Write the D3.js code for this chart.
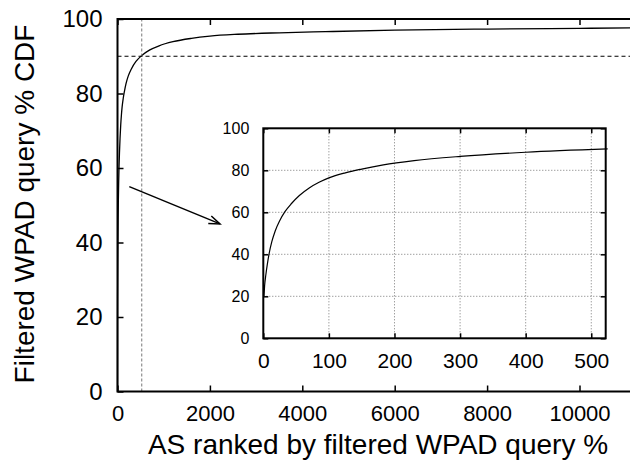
<!DOCTYPE html>
<html>
<head>
<meta charset="utf-8">
<script src="https://cdn.jsdelivr.net/npm/d3@7"></script>
<style>
  body { margin: 0; background: #fff; }
  svg { display: block; font-family: "Liberation Sans", Arial, Helvetica, sans-serif; }
</style>
</head>
<body>
<svg id="chart" width="630" height="463"></svg>
<script>
// CDF of filtered WPAD queries over ASes ranked by share
const rank = [1, 2, 4, 6, 9, 13, 18, 25, 33, 43, 55, 70, 85, 100, 125, 150, 183, 230, 300, 400, 525,
  700, 900, 1200, 1600, 2000, 2600, 3500, 4500, 6000, 8000, 10000, 12000];
const cdf = [20, 25, 30.5, 35, 40.5, 46, 51, 56, 60.3, 64.2, 68, 71.6, 74.3, 76.4, 78.8, 80.6, 82.6, 84.6, 86.6, 88.6, 90.2,
  91.7, 92.8, 93.9, 94.8, 95.4, 95.9, 96.3, 96.6, 97.0, 97.3, 97.5, 97.7];

const mainXTicks = [0, 2000, 4000, 6000, 8000, 10000];
const mainYTicks = [0, 20, 40, 60, 80, 100];
const insetXTicks = [0, 100, 200, 300, 400, 500];
const insetYTicks = [0, 20, 40, 60, 80, 100];

const refRank = 525;   // vertical dashed line
const refCdf = 90;     // horizontal dashed line
const arrowFrom = [255, 55];
const arrowTo = [2218, 45];

const xLabel = "AS ranked by filtered WPAD query %";
const yLabel = "Filtered WPAD query % CDF";

const points = rank.map((r, i) => ({ r: r, c: cdf[i] }));

const svg = d3.select("#chart");

// main panel
const x = d3.scaleLinear().domain([0, 12000]).range([117.5, 671.9]);
const y = d3.scaleLinear().domain([0, 100]).range([391.5, 19]);

const line = d3.line()
  .x(d => x(d.r))
  .y(d => y(d.c))
  .curve(d3.curveMonotoneX);

svg.append("path")
  .datum([{ r: 0, c: 0 }].concat(points))
  .attr("fill", "none")
  .attr("stroke", "#000")
  .attr("stroke-width", 1.3)
  .attr("d", line);

svg.append("line")
  .attr("x1", x(refRank)).attr("x2", x(refRank))
  .attr("y1", y(0)).attr("y2", y(100))
  .attr("stroke", "#777")
  .attr("stroke-width", 1)
  .attr("stroke-dasharray", "3,2");

svg.append("line")
  .attr("x1", x(0)).attr("x2", x(12000))
  .attr("y1", y(refCdf)).attr("y2", y(refCdf))
  .attr("stroke", "#000")
  .attr("stroke-width", 1)
  .attr("stroke-dasharray", "4,3");

function styleAxis(g, size) {
  g.select(".domain").remove();
  g.selectAll(".tick line").attr("stroke", "#000").attr("stroke-width", 1.5);
  g.selectAll(".tick text").attr("fill", "#000").style("font-size", size + "px");
}

svg.append("g")
  .attr("transform", `translate(0,${y(0)})`)
  .call(d3.axisBottom(x).tickValues(mainXTicks).tickSize(-6).tickPadding(14).tickFormat(d3.format("d")))
  .call(g => styleAxis(g, 22));

svg.append("g")
  .attr("transform", `translate(0,${y(100)})`)
  .call(d3.axisTop(x).tickValues(mainXTicks).tickSize(-6).tickFormat(""))
  .call(g => styleAxis(g, 22));

svg.append("g")
  .attr("transform", `translate(${x(0)},0)`)
  .call(d3.axisLeft(y).tickValues(mainYTicks).tickSize(-6).tickPadding(15))
  .call(g => styleAxis(g, 24));

svg.append("path")
  .attr("d", `M${x(12000)},${y(100)}H${x(0)}V${y(0)}H${x(12000)}`)
  .attr("fill", "none")
  .attr("stroke", "#000")
  .attr("stroke-width", 2);

svg.append("text")
  .attr("x", 378)
  .attr("y", 454)
  .attr("text-anchor", "middle")
  .style("font-size", "28px")
  .text(xLabel);

svg.append("text")
  .attr("transform", `translate(33.5,204) rotate(-90)`)
  .attr("text-anchor", "middle")
  .style("font-size", "28px")
  .text(yLabel);

// arrow pointing to the zoomed inset
svg.append("defs").append("marker")
  .attr("id", "head")
  .attr("viewBox", "-12 -6 14 12")
  .attr("refX", 0).attr("refY", 0)
  .attr("markerWidth", 14).attr("markerHeight", 12)
  .attr("markerUnits", "userSpaceOnUse")
  .attr("orient", "auto")
  .append("path")
  .attr("d", "M-11,-4L0,0L-11,4")
  .attr("fill", "none")
  .attr("stroke", "#000")
  .attr("stroke-width", 1.5);

svg.append("line")
  .attr("x1", x(arrowFrom[0])).attr("y1", y(arrowFrom[1]))
  .attr("x2", x(arrowTo[0])).attr("y2", y(arrowTo[1]))
  .attr("stroke", "#000")
  .attr("stroke-width", 1.5)
  .attr("marker-end", "url(#head)");

// inset: first 522 ASes
const ix = d3.scaleLinear().domain([0, 522]).range([263.3, 605.7]);
const iy = d3.scaleLinear().domain([0, 100]).range([338.3, 128.3]);

const inset = svg.append("g");

inset.append("rect")
  .attr("x", ix(0)).attr("y", iy(100))
  .attr("width", ix(522) - ix(0)).attr("height", iy(0) - iy(100))
  .attr("fill", "#fff");

inset.append("g")
  .selectAll("line")
  .data(insetXTicks.filter(d => d > 0))
  .join("line")
  .attr("x1", d => ix(d)).attr("x2", d => ix(d))
  .attr("y1", iy(0)).attr("y2", iy(100))
  .attr("stroke", "#777").attr("stroke-width", 1).attr("stroke-dasharray", "1,2");

inset.append("g")
  .selectAll("line")
  .data(insetYTicks.filter(d => d > 0 && d < 100))
  .join("line")
  .attr("x1", ix(0)).attr("x2", ix(522))
  .attr("y1", d => iy(d)).attr("y2", d => iy(d))
  .attr("stroke", "#777").attr("stroke-width", 1).attr("stroke-dasharray", "1,2");

const iline = d3.line()
  .x(d => ix(d.r))
  .y(d => iy(d.c))
  .curve(d3.curveMonotoneX);

inset.append("path")
  .datum(points.filter(d => d.r <= 530))
  .attr("fill", "none")
  .attr("stroke", "#000")
  .attr("stroke-width", 1.2)
  .attr("d", iline);

inset.append("g")
  .attr("transform", `translate(0,${iy(0)})`)
  .call(d3.axisBottom(ix).tickValues(insetXTicks).tickSize(-5).tickPadding(15.2))
  .call(g => styleAxis(g, 21));

inset.append("g")
  .attr("transform", `translate(0,${iy(100)})`)
  .call(d3.axisTop(ix).tickValues(insetXTicks).tickSize(-5).tickFormat(""))
  .call(g => styleAxis(g, 21));

inset.append("g")
  .attr("transform", `translate(${ix(0)},0)`)
  .call(d3.axisLeft(iy).tickValues(insetYTicks).tickSize(-5).tickPadding(14))
  .call(g => styleAxis(g, 16));

inset.append("g")
  .attr("transform", `translate(${ix(522)},0)`)
  .call(d3.axisRight(iy).tickValues(insetYTicks).tickSize(-5).tickFormat(""))
  .call(g => styleAxis(g, 16));

inset.append("rect")
  .attr("x", ix(0)).attr("y", iy(100))
  .attr("width", ix(522) - ix(0)).attr("height", iy(0) - iy(100))
  .attr("fill", "none")
  .attr("stroke", "#000")
  .attr("stroke-width", 2);
</script>
</body>
</html>
